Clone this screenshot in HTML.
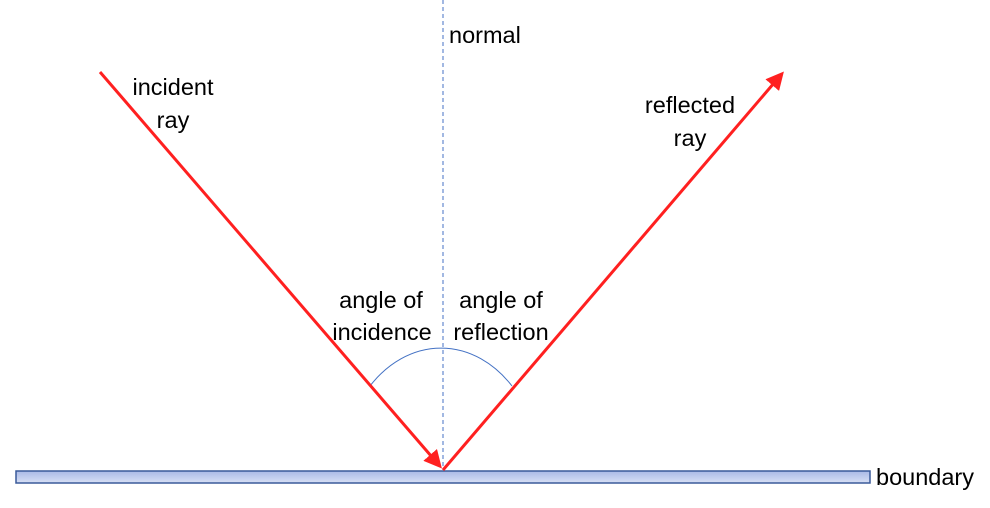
<!DOCTYPE html>
<html><head><style>body{margin:0;background:#fff}</style></head><body>
<svg width="990" height="503" xmlns="http://www.w3.org/2000/svg" font-family="Liberation Sans, sans-serif" font-size="23.5" fill="#000">
<defs>
<linearGradient id="g" x1="0" y1="0" x2="0" y2="1"><stop offset="0" stop-color="#a9b9e6"/><stop offset="1" stop-color="#d8e0f5"/></linearGradient>
<marker id="a" markerWidth="6" markerHeight="6" refX="4" refY="3" orient="auto" markerUnits="strokeWidth"><path d="M0,0 L6,3 L0,6 z" fill="#ff2020"/></marker>
</defs>
<rect x="16" y="471" width="854" height="12" fill="url(#g)" stroke="#3a5a9a" stroke-width="1.5"/>
<line x1="443" y1="0" x2="443" y2="470" stroke="#4472c4" stroke-width="1" stroke-dasharray="4,3"/>
<path d="M370,386 A99,125 0 0 1 512,386" fill="none" stroke="#4472c4" stroke-width="1"/>
<line x1="100" y1="72" x2="438" y2="464" stroke="#ff2020" stroke-width="3" marker-end="url(#a)"/>
<line x1="443" y1="470" x2="780" y2="76" stroke="#ff2020" stroke-width="3" marker-end="url(#a)"/>
<text x="449" y="43">normal</text>
<text x="173" y="95" text-anchor="middle">incident</text>
<text x="173" y="128" text-anchor="middle">ray</text>
<text x="690" y="113" text-anchor="middle">reflected</text>
<text x="690" y="146" text-anchor="middle">ray</text>
<text x="381" y="308" text-anchor="middle">angle of</text>
<text x="382" y="340" text-anchor="middle">incidence</text>
<text x="501" y="308" text-anchor="middle">angle of</text>
<text x="501" y="340" text-anchor="middle">reflection</text>
<text x="876" y="485">boundary</text>
</svg>
</body></html>
